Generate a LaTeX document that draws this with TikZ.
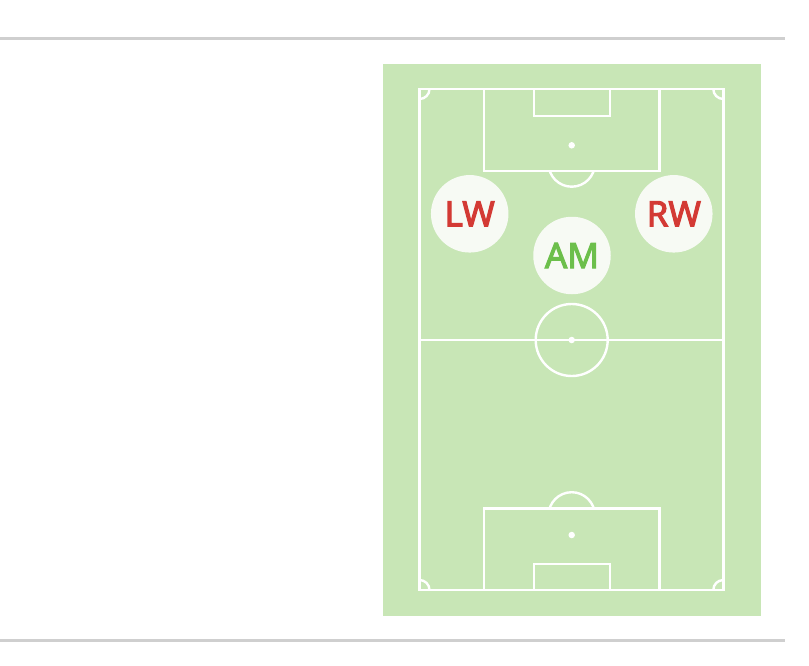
\documentclass[tikz,border=0pt]{standalone}
\usepackage{fontspec}
\setmainfont{Noto Sans}
\newfontfamily\playerfont[FakeBold=3]{Noto Sans}
\definecolor{pitch}{HTML}{C8E6B6}
\definecolor{rule}{HTML}{CFCFCF}
\definecolor{chip}{HTML}{F7FAF4}
\definecolor{redtxt}{HTML}{D33A34}
\definecolor{greentxt}{HTML}{6CBF4B}
\tikzset{
  line/.style={draw=white, line width=2.4pt},
  spot/.style={circle, fill=white, inner sep=0pt, minimum size=6.5pt},
  player/.style={circle, fill=chip, inner sep=0pt, minimum size=77.5pt, font=\playerfont\fontsize{35}{40}\selectfont},
  sep/.style={draw=rule, line width=3pt}
}
\begin{document}
\begin{tikzpicture}[x=1pt,y=-1pt]
\useasboundingbox (0,0) rectangle (809,665);
\fill[white] (0,0) rectangle (809,665);
% separators
\coordinate (t1) at (0,38.5);
\coordinate (t2) at (785,38.5);
\coordinate (b1) at (0,640.5);
\coordinate (b2) at (785,640.5);
\draw[sep] (t1) -- (t2);
\draw[sep] (b1) -- (b2);
% pitch
\fill[pitch] (383,64) rectangle (761,615.5);
\draw[line] (419.5,89) rectangle (723.3,590);
% halfway
\draw[line] (419.5,340) -- (723.3,340);
\draw[line] (571.7,340) circle[radius=36];
\node[spot] (cs) at (571.7,340) {};
% top penalty area
\draw[line] (484,89) -- (484,171) -- (659.3,171) -- (659.3,89);
\draw[line] (533.7,89) -- (533.7,115.7) -- (610,115.7) -- (610,89);
\node[spot] (ps1) at (571.7,145.3) {};
\begin{scope}
\clip (400,171) rectangle (740,230);
\draw[line] (571.7,163.5) circle[radius=23.2];
\end{scope}
% bottom penalty area
\draw[line] (484,590) -- (484,508.3) -- (659.3,508.3) -- (659.3,590);
\draw[line] (533.7,590) -- (533.7,564) -- (610,564) -- (610,590);
\node[spot] (ps2) at (571.7,535) {};
\begin{scope}
\clip (400,450) rectangle (740,508.3);
\draw[line] (571.7,515.4) circle[radius=23.2];
\end{scope}
% corner arcs
\begin{scope}
\clip (419.5,89) rectangle (723.3,590);
\draw[line] (419.5,89) circle[radius=10];
\draw[line] (723.3,89) circle[radius=10];
\draw[line] (419.5,590) circle[radius=10];
\draw[line] (723.3,590) circle[radius=10];
\end{scope}
% players
\node[player, text=redtxt] (lw) at (469.7,213.8) {LW};
\node[player, text=redtxt] (rw) at (673.8,213.8) {RW};
\node[player, text=greentxt] (am) at (572,255.5) {AM};
\end{tikzpicture}
\end{document}
